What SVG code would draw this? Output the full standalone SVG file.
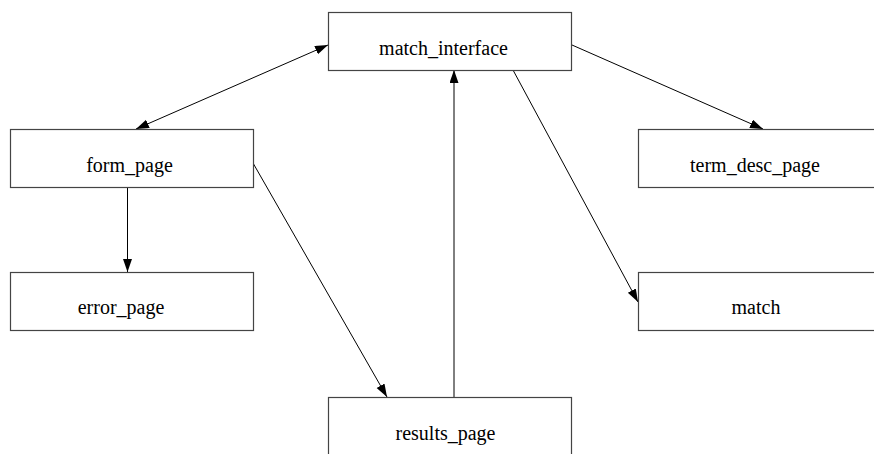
<svg xmlns="http://www.w3.org/2000/svg" width="874" height="454" viewBox="0 0 874 454">
<style>
.box{fill:#fff;stroke:#444;stroke-width:1.2}
.lbl{font-family:"Liberation Serif","Times New Roman",serif;font-size:20px;fill:#000;text-anchor:middle}
.edge{stroke:#000;stroke-width:1;fill:none}
</style>
<defs>
<marker id="ah" markerUnits="userSpaceOnUse" markerWidth="14" markerHeight="10" refX="13" refY="4.5" orient="auto-start-reverse">
<path d="M0,0 L13,4.5 L0,9 Z" fill="#000"/>
</marker>
</defs>
<rect width="874" height="454" fill="#fff"/>
<g id="edges">
<path class="edge" d="M136,129 L328,45" marker-start="url(#ah)" marker-end="url(#ah)"/>
<path class="edge" d="M572,45 L763,129" marker-end="url(#ah)"/>
<path class="edge" d="M513,70 L638,302" marker-end="url(#ah)"/>
<path class="edge" d="M127.5,188 L127.5,272" marker-end="url(#ah)"/>
<path class="edge" d="M253,163 L387,397" marker-end="url(#ah)"/>
<path class="edge" d="M454,397 L454,70" marker-end="url(#ah)"/>
</g>
<g id="match_interface">
<rect class="box" x="328.5" y="12.5" width="243" height="58"/>
<text class="lbl" x="443.5" y="54.5">match_interface</text>
</g>
<g id="form_page">
<rect class="box" x="10.5" y="129.5" width="243" height="58"/>
<text class="lbl" x="129.5" y="171.5">form_page</text>
</g>
<g id="term_desc_page">
<rect class="box" x="638.5" y="129.5" width="243" height="58"/>
<text class="lbl" x="755" y="171.5">term_desc_page</text>
</g>
<g id="error_page">
<rect class="box" x="10.5" y="272.5" width="243" height="58"/>
<text class="lbl" x="121" y="313.5">error_page</text>
</g>
<g id="match">
<rect class="box" x="638.5" y="272.5" width="243" height="58"/>
<text class="lbl" x="756" y="314">match</text>
</g>
<g id="results_page">
<rect class="box" x="328.5" y="397.5" width="243" height="58"/>
<text class="lbl" x="445.5" y="440">results_page</text>
</g>
</svg>
